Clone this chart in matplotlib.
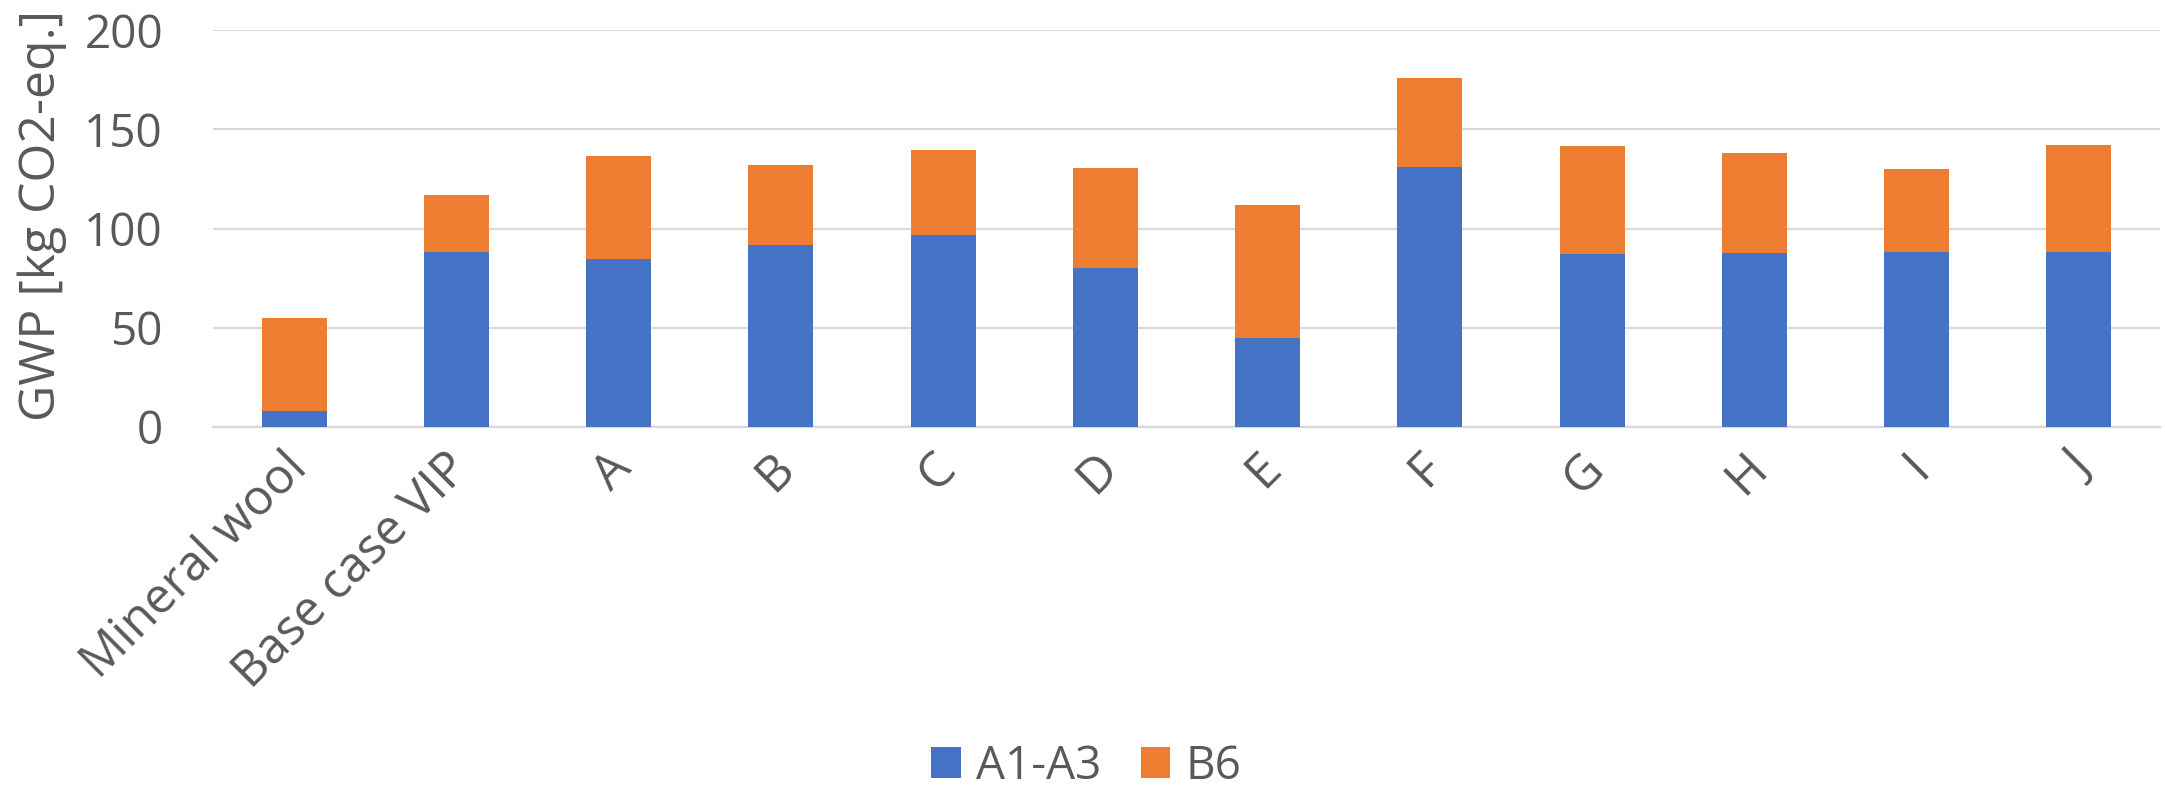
import matplotlib
matplotlib.use("Agg")
import matplotlib.pyplot as plt
import matplotlib.transforms as mtransforms
import numpy as np

categories = ["Mineral wool", "Base case VIP", "A", "B", "C", "D", "E", "F", "G", "H", "I", "J"]
a1_a3 = [8, 88, 84.5, 91.5, 96.5, 80, 45, 131, 87, 87.5, 88, 88]
totals = [55, 117, 136.5, 132, 139.5, 130.5, 112, 176, 141.5, 138, 130, 142]
b6 = [t - a for t, a in zip(totals, a1_a3)]

BLUE = "#4472C4"
ORANGE = "#ED7D31"
TEXT = "#595959"
GRID = "#D9D9D9"

plt.rcParams["font.family"] = ["Open Sans", "DejaVu Sans"]

fig = plt.figure(figsize=(21.65, 7.92), dpi=100)
ax = fig.add_axes([0.0984, 0.4609, 0.8993, 0.5011])

x = np.arange(len(categories))
ax.bar(x, a1_a3, width=0.4, color=BLUE, label="A1-A3", zorder=3)
ax.bar(x, b6, width=0.4, bottom=a1_a3, color=ORANGE, label="B6", zorder=3)

ax.set_xlim(-0.5, len(categories) - 0.5)
ax.set_ylim(0, 200)
ax.set_yticks([0, 50, 100, 150, 200])
ax.yaxis.grid(True, color=GRID, linewidth=1.6, zorder=0)
ax.set_axisbelow(True)
for s in ["top", "right", "left"]:
    ax.spines[s].set_visible(False)
ax.spines["bottom"].set_color(GRID)
ax.spines["bottom"].set_linewidth(1.6)
ax.tick_params(axis="both", length=0, labelsize=33, colors=TEXT)
ax.tick_params(axis="y", pad=36)

ax.set_xticks(x)
ax.set_xticklabels(categories, rotation=45, ha="right", va="top",
                   rotation_mode="anchor", fontsize=35.5)
ax.tick_params(axis="x", pad=12)
shift = mtransforms.ScaledTranslation(-12 / 100, 0, fig.dpi_scale_trans)
for lbl in ax.get_xticklabels():
    lbl.set_transform(lbl.get_transform() + shift)

fig.text(42 / 2165, 0.728, "GWP [kg CO2-eq.]", rotation=90, ha="center",
         va="center", fontsize=36, color=TEXT)

leg = fig.legend(loc="center", bbox_to_anchor=(0.5018, 0.032), ncol=2,
                 frameon=False, fontsize=33, handlelength=0.65, handleheight=0.65,
                 handletextpad=0.33, columnspacing=0.85)
for t in leg.get_texts():
    t.set_color(TEXT)

fig.savefig("out.png", dpi=100)
